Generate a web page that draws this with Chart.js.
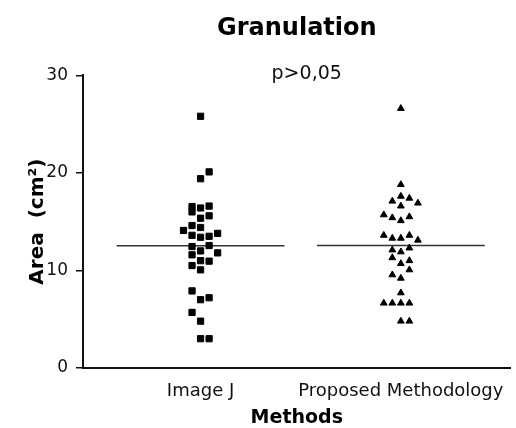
<!DOCTYPE html>
<html><head><meta charset="utf-8">
<script src="https://cdn.jsdelivr.net/npm/chart.js@4.4.1/dist/chart.umd.min.js"></script>
<style>html,body{margin:0;padding:0;background:#fff;}</style>
</head><body>
<canvas id="c" width="516" height="428"></canvas>
<script>
// ---- data ----
const categories = ['Image J', 'Proposed Methodology'];
const imageJValues  = [25.8, 20.1, 19.4, 16.55, 16.0, 16.4, 16.6, 15.6, 15.35, 14.6, 14.4, 14.1, 13.6, 13.4, 13.5, 13.8,
                       12.45, 12.0, 12.55, 11.8, 11.6, 11.0, 10.95, 10.5, 10.06, 7.9, 7.0, 7.2, 5.7, 4.8, 3.0, 3.0];
const imageJColumns = [0, 1, 0, -1, -1, 0, 1, 1, 0, -1, 0, -2, -1, 0, 1, 2,
                       -1, 0, 1, 2, -1, 0, 1, -1, 0, -1, 0, 1, -1, 0, 0, 1];
const proposedValues  = [26.6, 18.8, 17.6, 17.4, 17.1, 16.6, 16.9, 15.7, 15.4, 15.1, 15.5, 13.6, 13.3, 13.3, 13.6, 13.1,
                         12.1, 11.9, 12.3, 11.3, 10.7, 11.0, 10.06, 9.55, 9.2, 7.7, 6.65, 6.65, 6.65, 6.65, 4.8, 4.8];
const proposedColumns = [0, 0, 0, 1, -1, 0, 2, -2, -1, 0, 1, -2, -1, 0, 1, 2,
                         -1, 0, 1, -1, 0, 1, 1, -1, 0, 0, -2, -1, 0, 1, 0, 1];
const yTicks = [0, 10, 20, 30];
const chartTitle = 'Granulation';
const pValueLabel = 'p>0,05';
const xAxisTitle = 'Methods';
const yAxisTitle = 'Area  (cm²)';

// ---- layout / style constants ----
const FONT = '"DejaVu Sans", sans-serif';
const JITTER = 0.0426;      // horizontal spacing of swarm columns (x units)
const MEAN_HALF = 0.419;    // half width of mean line (x units)

function mean(a){ return a.reduce((s,v)=>s+v,0)/a.length; }
function swarm(vals, cols, cat){ return vals.map((v,i)=>({x: cat + cols[i]*JITTER, y: v})); }
function meanLine(vals, cat){ const m = mean(vals); return [{x: cat-MEAN_HALF, y: m}, {x: cat+MEAN_HALF, y: m}]; }

const pLabelPlugin = {
  id: 'pLabel',
  afterDraw(chart){
    const {ctx, chartArea, scales:{x}} = chart;
    ctx.save();
    ctx.font = '19px ' + FONT;
    ctx.fillStyle = '#111';
    ctx.textAlign = 'center';
    ctx.textBaseline = 'middle';
    ctx.fillText(pValueLabel, (x.getPixelForValue(1) + x.getPixelForValue(2))/2 + 6, chartArea.top - 1);
    ctx.restore();
  }
};

new Chart(document.getElementById('c'), {
  type: 'scatter',
  data: {
    datasets: [
      { label: categories[0], data: swarm(imageJValues, imageJColumns, 1),
        pointStyle: 'rect', pointRadius: 4.4, pointBorderWidth: 1,
        backgroundColor: '#000', borderColor: '#000' },
      { label: categories[1], data: swarm(proposedValues, proposedColumns, 2),
        pointStyle: 'triangle', pointRadius: 3.9, pointBorderWidth: 1,
        backgroundColor: '#000', borderColor: '#000' },
      { type: 'line', label: 'mean1', data: meanLine(imageJValues, 1),
        borderColor: '#333', borderWidth: 1.5, pointRadius: 0 },
      { type: 'line', label: 'mean2', data: meanLine(proposedValues, 2),
        borderColor: '#333', borderWidth: 1.5, pointRadius: 0 }
    ]
  },
  options: {
    responsive: false,
    devicePixelRatio: 1,
    animation: false,
    layout: { padding: { left: 0, right: 2, top: 0, bottom: 0 } },
    plugins: {
      legend: { display: false },
      tooltip: { enabled: false },
      title: {
        display: true, text: chartTitle, fullSize: false, color: '#000',
        font: { family: FONT, size: 24, weight: 'bold' },
        padding: { top: 14, bottom: 32.5 }
      }
    },
    scales: {
      x: {
        type: 'linear', min: 0.413, max: 2.548,
        afterBuildTicks(s){ s.ticks = categories.map((c,i)=>({value: i+1})); },
        afterFit(s){ s.height = 60; },
        grid: { display: false },
        border: { display: true, color: '#111', width: 2 },
        ticks: { autoSkip: false, maxRotation: 0, padding: 5, color: '#111',
                 font: { family: FONT, size: 18 },
                 callback: (v) => categories[v-1] },
        title: { display: true, text: xAxisTitle, color: '#000',
                 font: { family: FONT, size: 19, weight: 'bold', lineHeight: 1 },
                 padding: { top: 0, bottom: 0 } }
      },
      y: {
        min: 0, max: 30,
        afterBuildTicks(s){ s.ticks = yTicks.map(v=>({value: v})); },
        afterFit(s){ s.width = 83; },
        grid: { display: true, drawOnChartArea: false, drawTicks: true, tickLength: 7,
                color: '#111', tickColor: '#111', lineWidth: 1.5 },
        border: { display: true, color: '#111', width: 2 },
        ticks: { padding: 8, color: '#111', font: { family: FONT, size: 17 } },
        title: { display: true, text: yAxisTitle, color: '#000',
                 font: { family: FONT, size: 20, weight: 'bold' },
                 padding: { top: 26, bottom: 0 } }
      }
    }
  },
  plugins: [pLabelPlugin]
});
</script>
</body></html>
